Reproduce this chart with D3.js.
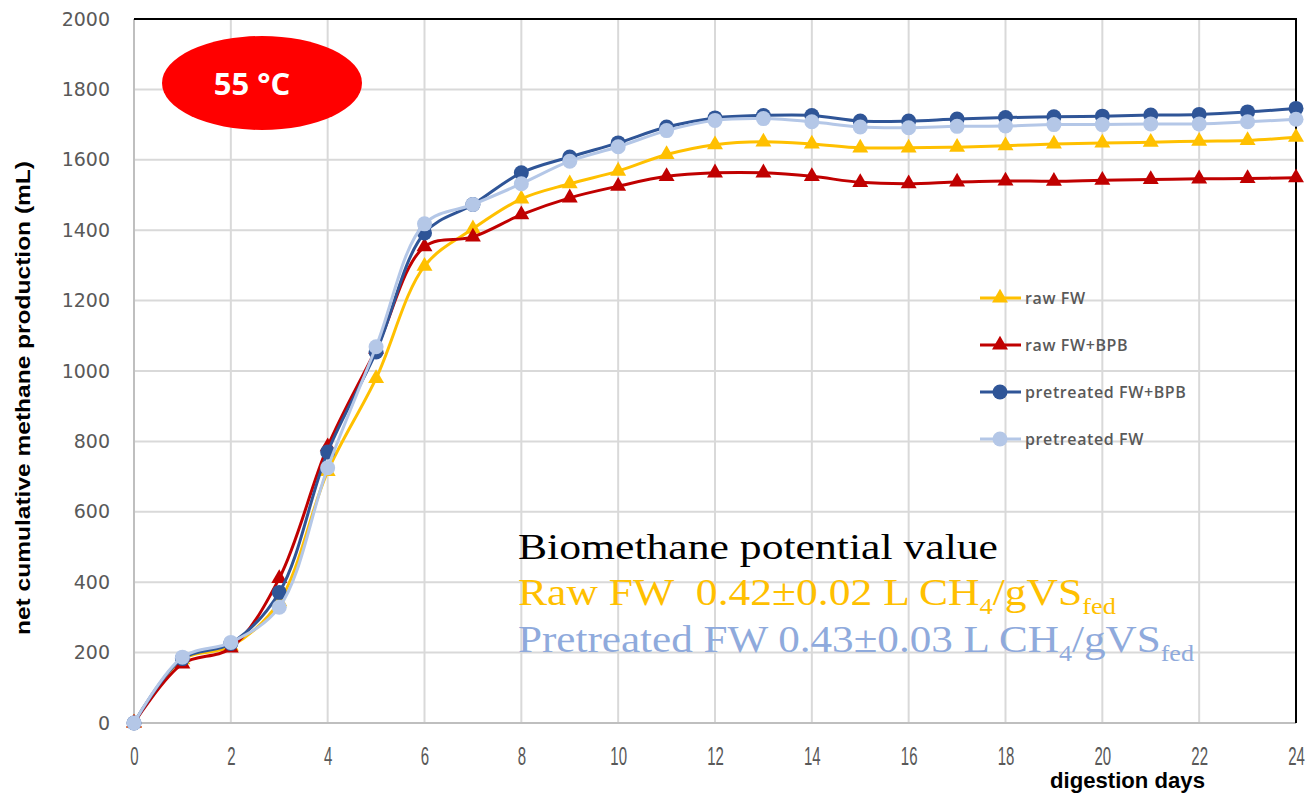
<!DOCTYPE HTML>
<html lang="en">
<head>
    <meta http-equiv="Content-Type" content="text/html; charset=utf-8">
    <title>Net cumulative methane production 55 C</title>
    <script src="https://cdn.jsdelivr.net/npm/d3@7/dist/d3.min.js"></script>
    <style type="text/css">
        html,body{margin:0;padding:0;background:#fff}
        #svgWrap{width:1314px;height:796px}
    </style>
</head>
<body>
<div id="svgWrap"></div>
<script type="text/javascript">
// digestion days
var days=[0,1,2,3,4,5,6,7,8,9,10,11,12,13,14,15,16,17,18,19,20,21,22,23,24];
// net cumulative methane production (mL)
var rawFW=[0,180,218,345,715,979,1298,1404,1489,1532,1568,1615,1643,1651,1645,1634,1634,1636,1640,1645,1648,1650,1653,1655,1664];
var rawFWBPB=[0,168,213,411,785,1062,1353,1381,1444,1492,1525,1553,1563,1563,1553,1536,1532,1537,1540,1539,1542,1544,1546,1547,1549];
var pretFWBPB=[0,183,226,371,770,1054,1392,1473,1563,1608,1648,1693,1719,1726,1726,1710,1710,1716,1720,1722,1724,1727,1729,1736,1746];
var pretFW=[0,187,229,329,725,1069,1418,1473,1532,1596,1637,1683,1712,1717,1708,1693,1691,1695,1696,1700,1700,1702,1702,1708,1715];
var seriesNames=["raw FW","raw FW+BPB","pretreated FW+BPB","pretreated FW"];
var xTicks=[0,2,4,6,8,10,12,14,16,18,20,22,24];
var yTicks=[0,200,400,600,800,1000,1200,1400,1600,1800,2000];

var series=[
    {name:seriesNames[0],values:rawFW,color:"#FFC000",marker:"triangle"},
    {name:seriesNames[1],values:rawFWBPB,color:"#C00000",marker:"triangle"},
    {name:seriesNames[2],values:pretFWBPB,color:"#2F5597",marker:"circle"},
    {name:seriesNames[3],values:pretFW,color:"#B4C7E7",marker:"circle"}
];

var figMargin={top:19,right:18,bottom:73,left:134};
var width=1314-figMargin.left-figMargin.right;
var height=796-figMargin.top-figMargin.bottom;

var root=d3.select("#svgWrap").append("svg")
    .attr("width",1314)
    .attr("height",796);
var svg=root.append("g")
    .attr("transform","translate("+figMargin.left+","+figMargin.top+")");

var xScale=d3.scaleLinear().domain([0,24]).range([0,width]);
var yScale=d3.scaleLinear().domain([0,2000]).range([height,0]);

// grid
svg.append("g").selectAll("line").data(xTicks).enter().append("line")
    .attr("x1",function(d){return xScale(d)}).attr("x2",function(d){return xScale(d)})
    .attr("y1",0).attr("y2",height)
    .attr("stroke","#D9D9D9").attr("stroke-width",2);
svg.append("g").selectAll("line").data(yTicks).enter().append("line")
    .attr("x1",0).attr("x2",width)
    .attr("y1",function(d){return yScale(d)}).attr("y2",function(d){return yScale(d)})
    .attr("stroke","#D9D9D9").attr("stroke-width",2);

// axes
var yAxis=d3.axisLeft(yScale).tickValues(yTicks).tickFormat(d3.format("d")).tickSize(0).tickPadding(24);
var yg=svg.append("g").call(yAxis);
yg.select(".domain").remove();
yg.selectAll("text")
    .attr("font-family","'DejaVu Sans',Verdana,sans-serif")
    .attr("font-size","19px")
    .attr("fill","#595959");

var xAxis=d3.axisBottom(xScale).tickValues(xTicks).tickSize(0).tickPadding(0);
var xg=svg.append("g").attr("transform","translate(0,"+height+")").call(xAxis);
xg.select(".domain").remove();
xg.selectAll("text")
    .attr("dy",0)
    .attr("y",42)
    .attr("font-family","'Liberation Sans',Arial,sans-serif")
    .attr("font-size","25px")
    .attr("fill","#595959")
    .attr("transform","scale(0.6,1)");

// frame
svg.append("line").attr("x1",0).attr("x2",0).attr("y1",0).attr("y2",height)
    .attr("stroke","#BFBFBF").attr("stroke-width",2);
svg.append("line").attr("x1",0).attr("x2",width).attr("y1",height).attr("y2",height)
    .attr("stroke","#BFBFBF").attr("stroke-width",2);
svg.append("path")
    .attr("d","M0,0H"+width+"V"+height)
    .attr("fill","none").attr("stroke","#000").attr("stroke-width",2);

// axis titles
root.append("text")
    .attr("transform","translate(30,398) rotate(-90)")
    .attr("text-anchor","middle")
    .attr("font-family","'Liberation Sans',Arial,sans-serif")
    .attr("font-weight","bold")
    .attr("font-size","21px")
    .attr("textLength",474)
    .attr("lengthAdjust","spacingAndGlyphs")
    .attr("fill","#000")
    .text("net cumulative methane production (mL)");
root.append("text")
    .attr("x",1050).attr("y",788)
    .attr("font-family","'Liberation Sans',Arial,sans-serif")
    .attr("font-weight","bold")
    .attr("font-size","22px")
    .attr("textLength",155)
    .attr("lengthAdjust","spacingAndGlyphs")
    .attr("fill","#000")
    .text("digestion days");

// curves
var valuePath=d3.line()
    .curve(d3.curveCatmullRom.alpha(0.5))
    .x(function(d){return xScale(d[0])})
    .y(function(d){return yScale(d[1])});
var triangle=d3.symbol().type(d3.symbolTriangle).size(110);

function drawMarker(sel,s) {
    if(s.marker=="triangle") {
        sel.append("path").attr("d",triangle()).attr("fill",s.color);
    } else {
        sel.append("circle").attr("r",7.5).attr("fill",s.color);
    }
}

series.forEach(function(s){
    var pts=days.map(function(d,i){return [d,s.values[i]]});
    svg.append("path")
        .data([pts])
        .attr("stroke",s.color)
        .attr("stroke-width","3px")
        .attr("fill","none")
        .attr("d",valuePath);
    pts.forEach(function(p){
        var m=svg.append("g").attr("transform","translate("+xScale(p[0])+","+yScale(p[1])+")");
        drawMarker(m,s);
    });
});

// legend
var legend=root.append("g").attr("transform","translate(980,298)");
series.forEach(function(s,i){
    var row=legend.append("g").attr("transform","translate(0,"+(i*47)+")");
    row.append("line").attr("x1",0).attr("x2",41).attr("y1",0).attr("y2",0)
        .attr("stroke",s.color).attr("stroke-width",3);
    var m=row.append("g").attr("transform","translate(20,0)");
    drawMarker(m,s);
    row.append("text")
        .attr("x",45).attr("y",6)
        .attr("font-family","'Open Sans',sans-serif")
        .attr("font-weight","600")
        .attr("font-size","16px")
        .attr("letter-spacing","0.6px")
        .attr("fill","#595959")
        .text(s.name);
});

// 55 C badge
root.append("ellipse")
    .attr("cx",262).attr("cy",83).attr("rx",100).attr("ry",47)
    .attr("fill","#FF0000");
root.append("text")
    .attr("x",252).attr("y",95)
    .attr("text-anchor","middle")
    .attr("font-family","'Open Sans',sans-serif")
    .attr("font-weight","bold")
    .attr("font-size","31px")
    .attr("fill","#fff")
    .text("55 \u00B0C");

// biomethane potential note
var note=root.append("g")
    .attr("font-family","'Liberation Serif','Times New Roman',serif");
note.append("text")
    .attr("x",518).attr("y",559)
    .attr("font-size","36px")
    .attr("textLength",480)
    .attr("lengthAdjust","spacingAndGlyphs")
    .attr("fill","#000")
    .text("Biomethane potential value");

function noteLine(y,color,label,len) {
    var t=note.append("text").attr("x",518).attr("y",y).attr("font-size","38px").attr("fill",color)
        .attr("textLength",len).attr("lengthAdjust","spacingAndGlyphs");
    t.append("tspan").text(label+" L CH");
    t.append("tspan").attr("font-size","23px").attr("dy",9).text("4");
    t.append("tspan").attr("dy",-9).text("/gVS");
    t.append("tspan").attr("font-size","23px").attr("dy",9).text("fed");
    return t;
}
noteLine(605,"#FFC000","Raw FW\u00A0 0.42\u00B10.02",598);
noteLine(652,"#8FAADC","Pretreated FW 0.43\u00B10.03",676);
</script>
</body>
</html>
